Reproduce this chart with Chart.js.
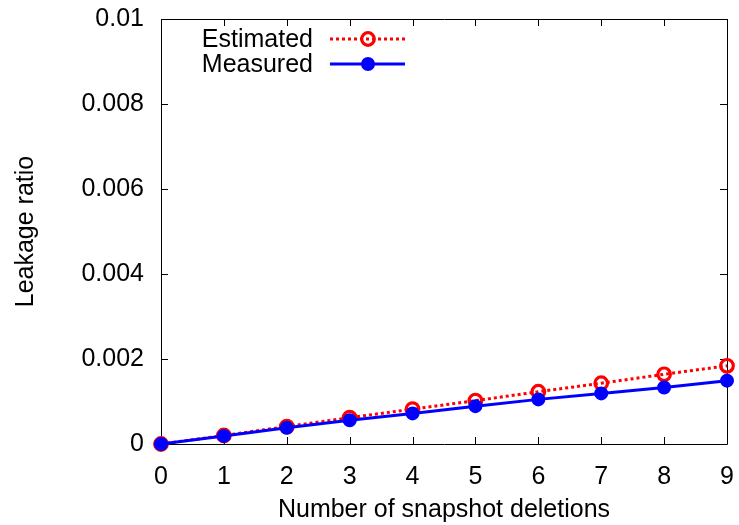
<!DOCTYPE html>
<html>
<head>
<meta charset="utf-8">
<script src="https://cdn.jsdelivr.net/npm/chart.js@4/dist/chart.umd.min.js"></script>
<style>
  html, body { margin: 0; padding: 0; background: #ffffff; }
  #wrap { width: 739px; height: 525px; }
</style>
</head>
<body>
<div id="wrap"><canvas id="c" width="739" height="525"></canvas></div>
<script>
const deletions = [0, 1, 2, 3, 4, 5, 6, 7, 8, 9];
const estimated = [0, 0.0002, 0.00041, 0.00062, 0.00082, 0.00102, 0.00123, 0.00143, 0.00164, 0.00184];
const measured  = [0, 0.00019, 0.00038, 0.00056, 0.00072, 0.00089, 0.00105, 0.00119, 0.00133, 0.00149];
const yTickValues = [0, 0.002, 0.004, 0.006, 0.008, 0.01];
const yTickLabels = ['0', '0.002', '0.004', '0.006', '0.008', '0.01'];
const seriesNames = ['Estimated', 'Measured'];
const xTitle = 'Number of snapshot deletions';
const yTitle = 'Leakage ratio';

const FONT = 'Liberation Sans, Arial, Helvetica, sans-serif';
const FS = 25;

const frame = {
  id: 'frame',
  beforeDatasetsDraw(chart) {
    const { ctx, chartArea: a, scales } = chart;
    ctx.save();
    ctx.strokeStyle = '#000';
    ctx.lineWidth = 1;
    ctx.beginPath();
    ctx.rect(Math.round(a.left) + 0.5, Math.round(a.top) + 0.5,
             Math.round(a.right - a.left), Math.round(a.bottom - a.top));
    ctx.stroke();
    const L = 7;
    ctx.beginPath();
    deletions.forEach(v => {
      const x = Math.round(scales.x.getPixelForValue(v)) + 0.5;
      ctx.moveTo(x, a.bottom); ctx.lineTo(x, a.bottom - L);
      ctx.moveTo(x, a.top); ctx.lineTo(x, a.top + L);
    });
    yTickValues.forEach(v => {
      const y = Math.round(scales.y.getPixelForValue(v)) + 0.5;
      ctx.moveTo(a.left, y); ctx.lineTo(a.left + L, y);
      ctx.moveTo(a.right, y); ctx.lineTo(a.right - L, y);
    });
    ctx.stroke();
    ctx.restore();
  },
  afterDraw(chart) {
    const { ctx } = chart;
    ctx.save();
    ctx.font = FS + 'px ' + FONT;
    ctx.fillStyle = '#000';
    ctx.textAlign = 'right';
    ctx.textBaseline = 'middle';
    const rows = [
      { label: seriesNames[0], y: 39, ds: chart.data.datasets[0] },
      { label: seriesNames[1], y: 64, ds: chart.data.datasets[1] }
    ];
    rows.forEach(r => {
      ctx.fillText(r.label, 313, r.y + 1);
      ctx.strokeStyle = r.ds.borderColor;
      ctx.lineWidth = r.ds.borderWidth;
      ctx.setLineDash(r.ds.borderDash || []);
      ctx.beginPath();
      ctx.moveTo(330, r.y); ctx.lineTo(405, r.y);
      ctx.stroke();
      ctx.setLineDash([]);
      ctx.beginPath();
      ctx.arc(368, r.y, r.ds.pointRadius, 0, Math.PI * 2);
      if (r.ds.pointBackgroundColor !== 'rgba(0,0,0,0)') {
        ctx.fillStyle = r.ds.pointBackgroundColor;
        ctx.fill();
        ctx.fillStyle = '#000';
      }
      ctx.strokeStyle = r.ds.pointBorderColor;
      ctx.lineWidth = r.ds.pointBorderWidth;
      ctx.stroke();
    });
    ctx.restore();
  }
};

new Chart(document.getElementById('c'), {
  type: 'line',
  data: {
    datasets: [
      {
        label: seriesNames[0],
        data: deletions.map((x, i) => ({ x: x, y: estimated[i] })),
        borderColor: '#ff0000',
        borderWidth: 3,
        borderDash: [3, 3],
        pointRadius: 6.3,
        pointBorderWidth: 3.2,
        pointBorderColor: '#ff0000',
        pointBackgroundColor: 'rgba(0,0,0,0)',
        backgroundColor: 'rgba(0,0,0,0)',
        tension: 0,
        clip: false,
        order: 2
      },
      {
        label: seriesNames[1],
        data: deletions.map((x, i) => ({ x: x, y: measured[i] })),
        borderColor: '#0000ff',
        borderWidth: 3,
        pointRadius: 6,
        pointBorderWidth: 2,
        pointBorderColor: '#0000ff',
        pointBackgroundColor: '#0000ff',
        backgroundColor: '#0000ff',
        tension: 0,
        clip: false,
        order: 1
      }
    ]
  },
  options: {
    responsive: false,
    animation: false,
    events: [],
    layout: { padding: { top: 19, right: 12, left: 0, bottom: 0 } },
    plugins: { legend: { display: false }, tooltip: { enabled: false }, title: { display: false } },
    scales: {
      x: {
        type: 'linear',
        min: 0, max: 9,
        afterFit(s) { s.height = 81; s.paddingLeft = 0; s.paddingRight = 0; },
        afterBuildTicks(s) { s.ticks = deletions.map(v => ({ value: v })); },
        grid: { display: false, drawTicks: false },
        border: { display: false },
        ticks: { color: '#000', font: { family: FONT, size: FS }, padding: 18, maxRotation: 0, autoSkip: false,
                 callback: (v) => String(v) },
        title: { display: true, text: xTitle, color: '#000', font: { family: FONT, size: FS },
                 padding: { top: 0, bottom: 0 } }
      },
      y: {
        type: 'linear',
        min: 0, max: 0.01,
        afterFit(s) { s.width = 161; s.paddingTop = 0; s.paddingBottom = 0; },
        afterBuildTicks(s) { s.ticks = yTickValues.map(v => ({ value: v })); },
        grid: { display: false, drawTicks: false },
        border: { display: false },
        ticks: { color: '#000', font: { family: FONT, size: FS }, padding: 17, autoSkip: false,
                 callback: (v, i) => yTickLabels[i] },
        title: { display: true, text: yTitle, color: '#000', font: { family: FONT, size: FS },
                 padding: { top: 11, bottom: 0 } }
      }
    }
  },
  plugins: [frame]
});
</script>
</body>
</html>
